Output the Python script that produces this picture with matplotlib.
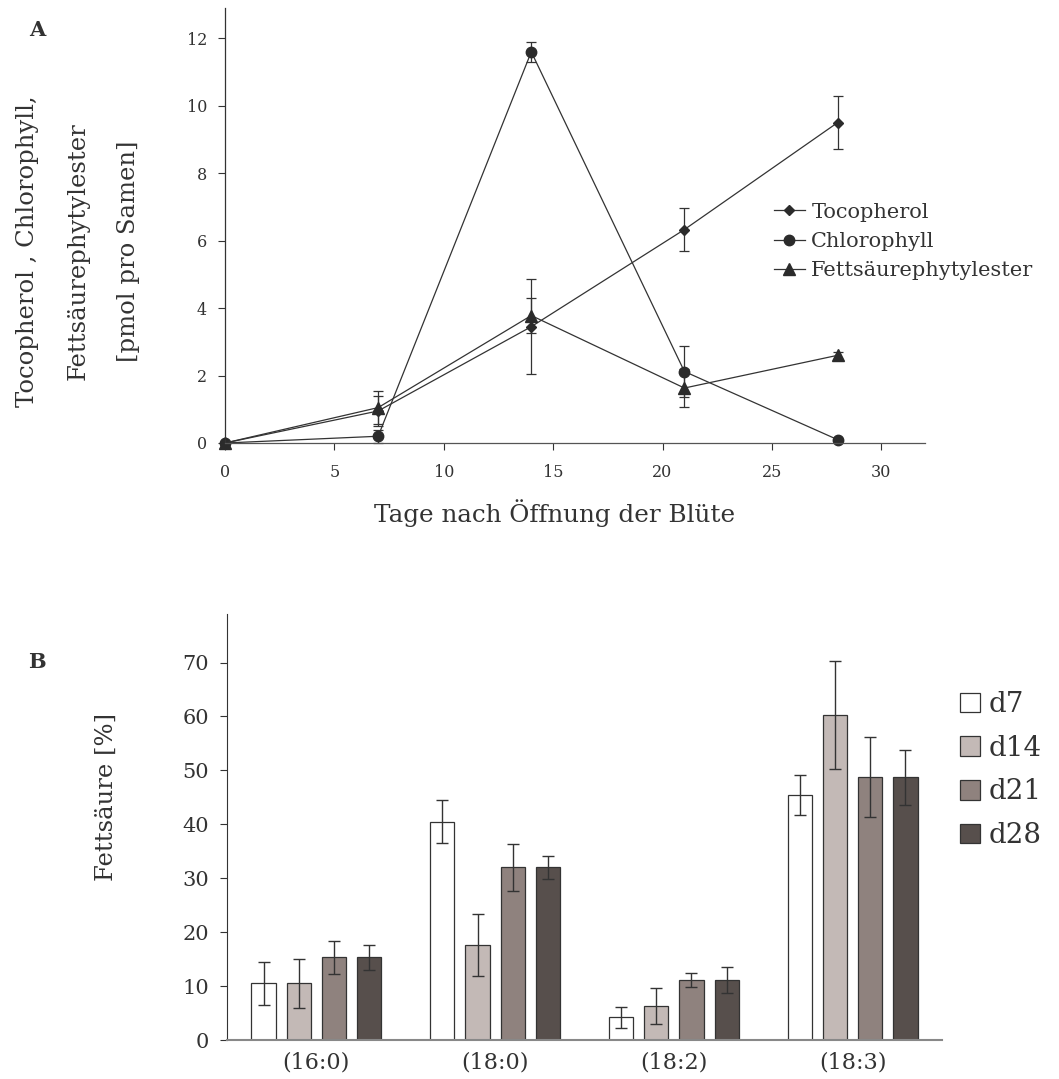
import numpy as np
import matplotlib
matplotlib.use("Agg")
import matplotlib.pyplot as plt

plt.rcParams.update({
    "font.family": ["DejaVu Serif"],
    "text.color": "#333333",
    "axes.labelcolor": "#333333",
    "xtick.color": "#333333",
    "ytick.color": "#333333",
})

# ================================
# data panel A
# ================================
days = [0, 7, 14, 21, 28]
toco = [0.0, 0.95, 3.45, 6.33, 9.5]
toco_err = [0.0, 0.45, 1.4, 0.65, 0.78]
chl = [0.0, 0.2, 11.6, 2.12, 0.1]
chl_err = [0.0, 0.2, 0.3, 0.76, 0.0]
fpe = [0.0, 1.05, 3.78, 1.63, 2.6]
fpe_err = [0.0, 0.5, 0.53, 0.57, 0.1]

# ================================
# data panel B
# ================================
acids = ["(16:0)", "(18:0)", "(18:2)", "(18:3)"]
sample_days = ["d7", "d14", "d21", "d28"]
d7 = [10.5, 40.5, 4.2, 45.5]
d7_err = [4.0, 4.0, 2.0, 3.7]
d14 = [10.5, 17.6, 6.3, 60.3]
d14_err = [4.5, 5.8, 3.4, 10.0]
d21 = [15.3, 32.0, 11.1, 48.7]
d21_err = [3.1, 4.3, 1.3, 7.4]
d28 = [15.3, 32.0, 11.1, 48.7]
d28_err = [2.4, 2.1, 2.35, 5.1]
bar_colors = ["#ffffff", "#c3b9b6", "#8f827e", "#574f4c"]

fig = plt.figure(figsize=(10.59, 10.79), dpi=100)

# ---------- panel A ----------
axA = fig.add_axes([0.2125, 1 - 443 / 1079, 0.661, 435 / 1079])
line_kw = dict(color="#333333", lw=0.9, capsize=3.5, elinewidth=0.9,
               capthick=0.9, ecolor="#333333", clip_on=False)
axA.errorbar(days, toco, yerr=toco_err, marker="D", ms=5.5,
             mfc="#2b2b2b", mec="#2b2b2b", label="Tocopherol", **line_kw)
axA.errorbar(days, chl, yerr=chl_err, marker="o", ms=7.5,
             mfc="#2b2b2b", mec="#2b2b2b", label="Chlorophyll", **line_kw)
axA.errorbar(days, fpe, yerr=fpe_err, marker="^", ms=8.5,
             mfc="#2b2b2b", mec="#2b2b2b", label="Fettsäurephytylester", **line_kw)

axA.set_xlim(0, 32)
axA.set_ylim(0, 12.9)
axA.set_xticks([0, 5, 10, 15, 20, 25, 30])
axA.set_yticks([0, 2, 4, 6, 8, 10, 12])
axA.tick_params(labelsize=11.5, length=5, width=0.8, pad=10)
axA.tick_params(axis="y", pad=8)
for s in ["top", "right"]:
    axA.spines[s].set_visible(False)
axA.spines["left"].set_color("#333333")
axA.spines["bottom"].set_color("#555555")
axA.spines["left"].set_linewidth(0.9)
axA.spines["bottom"].set_linewidth(0.9)

axA.set_xlabel("Tage nach Öffnung der Blüte", fontsize=17.7)
axA.xaxis.set_label_coords(0.471, -0.13)
fig.text(78 / 1059, 1 - 251 / 1079,
         "Tocopherol , Chlorophyll,\nFettsäurephytylester\n[pmol pro Samen]",
         rotation=90, ha="center", va="center", fontsize=17.5,
         linespacing=2.55, multialignment="center", color="#333333")

handles, labels = axA.get_legend_handles_labels()
handles = [h[0] for h in handles]
axA.legend(handles, labels, loc="upper left", bbox_to_anchor=(0.772, 0.572),
           frameon=False, fontsize=15, handlelength=1.5, handletextpad=0.3,
           labelspacing=0.5, borderaxespad=0)

fig.text(37 / 1059, 1 - 30 / 1079, "A", fontsize=15, fontweight="bold",
         ha="center", va="center", color="#333333")

# ---------- panel B ----------
axB = fig.add_axes([227 / 1059, 1 - 1040 / 1079, 715 / 1059, 426 / 1079])
x = np.arange(len(acids))
pitch = 0.197
width = 0.135
series = [(d7, d7_err), (d14, d14_err), (d21, d21_err), (d28, d28_err)]
for i, (vals, errs) in enumerate(series):
    axB.bar(x + (i - 1.5) * pitch, vals, width=width, color=bar_colors[i],
            edgecolor="#333333", linewidth=0.9, label=sample_days[i],
            yerr=errs, error_kw=dict(ecolor="#333333", elinewidth=1.0,
                                     capsize=4.5, capthick=1.0))

axB.set_xlim(-0.5, 3.5)
axB.set_ylim(0, 79)
axB.set_xticks(x)
axB.set_xticklabels(acids)
axB.set_yticks(np.arange(0, 80, 10))
axB.tick_params(axis="x", length=0, labelsize=16, pad=8)
axB.tick_params(axis="y", labelsize=15, length=5, width=0.8, pad=8)
for s in ["top", "right"]:
    axB.spines[s].set_visible(False)
axB.spines["left"].set_color("#333333")
axB.spines["bottom"].set_color("#888888")
axB.spines["bottom"].set_linewidth(1.5)
fig.text(106 / 1059, 1 - 797 / 1079, "Fettsäure [%]", rotation=90,
         ha="center", va="center", fontsize=17.5, color="#333333")

axB.legend(loc="upper left", bbox_to_anchor=(1.01, 0.845), frameon=False,
           fontsize=20, handlelength=0.72, handleheight=0.72,
           handletextpad=0.3, labelspacing=0.6, borderaxespad=0)

fig.text(37 / 1059, 1 - 662 / 1079, "B", fontsize=15, fontweight="bold",
         ha="center", va="center", color="#333333")

fig.savefig("out.png", dpi=100)
